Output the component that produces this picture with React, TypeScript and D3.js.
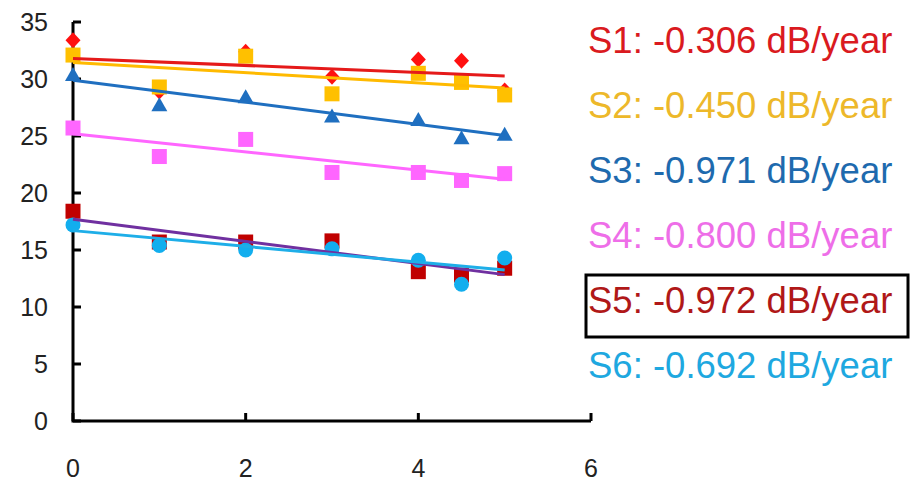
import React from "react";
import * as d3 from "d3";

const years = [0, 1, 2, 3, 4, 4.5, 5];
const seriesNames = ["S1", "S2", "S3", "S4", "S5", "S6"];
const s1 = [33.4, 28.9, 32.4, 30.2, 31.7, 31.6, 29.0];
const s2 = [32.1, 29.3, 32.0, 28.7, 30.5, 29.7, 28.6];
const s3 = [30.35, 27.7, 28.4, 26.7, 26.4, 24.8, 25.1];
const s4 = [25.7, 23.2, 24.7, 21.8, 21.8, 21.1, 21.7];
const s5 = [18.4, 15.7, 15.7, 15.8, 13.1, 12.8, 13.4];
const s6 = [17.2, 15.4, 15.0, 15.1, 14.1, 12.0, 14.3];
const slopes = [-0.306, -0.45, -0.971, -0.8, -0.972, -0.692];
const intercepts = [31.8, 31.45, 29.9, 25.2, 17.7, 16.7];
const xTicks = [0, 2, 4, 6];
const yTicks = [0, 5, 10, 15, 20, 25, 30, 35];

const values = [s1, s2, s3, s4, s5, s6];
const markerShapes = ["diamond", "square", "triangle", "square", "square", "circle"];
const markerColors = ["#FF1010", "#FFC000", "#1F6FC0", "#FF66FF", "#C00000", "#12AEEE"];
const lineColors = ["#E51A1A", "#FFBA00", "#1F6FC0", "#FF66FF", "#7030A0", "#1EAEE8"];
const textColors = ["#DA1A20", "#EDB82A", "#1E6AAE", "#EE6EE8", "#B01818", "#1EA8E0"];

const x = d3.scaleLinear().domain([0, 6]).range([73, 591]);
const y = d3.scaleLinear().domain([0, 35]).range([421, 22]);

function marker(shape: string, cx: number, cy: number, color: string, key: string) {
  if (shape === "circle") return <circle key={key} cx={cx} cy={cy} r={7.5} fill={color} />;
  if (shape === "square")
    return <rect key={key} x={cx - 7.5} y={cy - 7.5} width={15} height={15} fill={color} />;
  if (shape === "triangle")
    return (
      <path key={key} d={`M${cx},${cy - 8}L${cx + 8},${cy + 6}L${cx - 8},${cy + 6}Z`} fill={color} />
    );
  return (
    <path
      key={key}
      d={`M${cx},${cy - 8}L${cx + 7.5},${cy}L${cx},${cy + 8}L${cx - 7.5},${cy}Z`}
      fill={color}
    />
  );
}

export default function App() {
  return (
    <svg
      width={916}
      height={482}
      style={{ position: "absolute", left: 0, top: 0, background: "#fff" }}
      fontFamily="'Liberation Sans', Arial, sans-serif"
    >
      <rect width={916} height={482} fill="#fff" />
      {/* axes */}
      <g stroke="#000" strokeWidth={3} fill="none">
        <path d={`M${x(0)},${y(35)}V${y(0)}H${x(6)}`} />
        {yTicks.map((t) => (
          <line key={"yt" + t} x1={x(0)} x2={x(0) + 8} y1={y(t)} y2={y(t)} />
        ))}
        {xTicks.map((t) => (
          <line key={"xt" + t} x1={x(t)} x2={x(t)} y1={y(0)} y2={y(0) - 8} />
        ))}
      </g>
      {yTicks.map((t) => (
        <text key={"yl" + t} x={48} y={y(t) + 9} fontSize={25} textAnchor="end" fill="#222">
          {t}
        </text>
      ))}
      {xTicks.map((t) => (
        <text key={"xl" + t} x={x(t)} y={477} fontSize={25} textAnchor="middle" fill="#222">
          {t}
        </text>
      ))}
      {/* markers */}
      {values.map((vals, si) =>
        vals.map((v, i) => marker(markerShapes[si], x(years[i]), y(v), markerColors[si], `m${si}-${i}`))
      )}
      {/* trend lines */}
      {seriesNames.map((n, si) => {
        const x0 = years[0];
        const x1 = years[years.length - 1];
        return (
          <line
            key={"tl" + n}
            x1={x(x0)}
            x2={x(x1)}
            y1={y(intercepts[si] + slopes[si] * x0)}
            y2={y(intercepts[si] + slopes[si] * x1)}
            stroke={lineColors[si]}
            strokeWidth={3}
          />
        );
      })}
      {/* legend */}
      {seriesNames.map((n, si) => (
        <text key={"lg" + n} x={588} y={53 + si * 65} fontSize={36.5} fill={textColors[si]}>
          {`${n}: ${slopes[si].toFixed(3)} dB/year`}
        </text>
      ))}
      <rect x={586} y={275} width={322} height={62} fill="none" stroke="#000" strokeWidth={3} />
    </svg>
  );
}
